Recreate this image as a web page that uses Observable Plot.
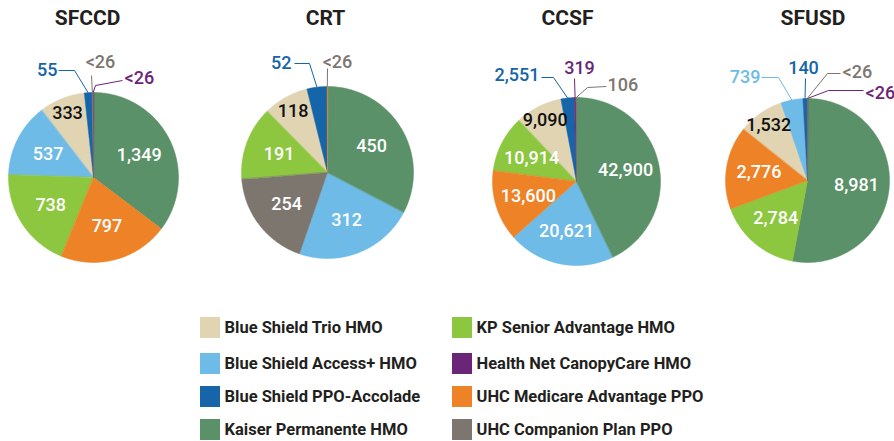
<!DOCTYPE html>
<html>
<head>
<meta charset="utf-8">
<script src="https://cdn.jsdelivr.net/npm/d3@7"></script>
<script src="https://cdn.jsdelivr.net/npm/@observablehq/plot@0.6"></script>
<style>
  html, body { margin: 0; padding: 0; background: #fff; overflow: hidden; }
  #page { position: relative; width: 894px; height: 441px; }
  #chart svg { overflow: hidden; }
  .sw { position: absolute; width: 20px; height: 21px; }
  .lt { position: absolute; font-family: Roboto, "Liberation Sans", sans-serif; font-weight: 700;
        font-size: 16.5px; color: #231f20; line-height: 21px; white-space: nowrap; }
</style>
</head>
<body>
<div id="page">
  <div id="chart"></div>
  <div id="legend"></div>
</div>
<script>
// ---------- data ----------
const plans = [
  "Blue Shield Trio HMO",
  "Blue Shield Access+ HMO",
  "Blue Shield PPO-Accolade",
  "Kaiser Permanente HMO",
  "KP Senior Advantage HMO",
  "Health Net CanopyCare HMO",
  "UHC Medicare Advantage PPO",
  "UHC Companion Plan PPO"
];
const planColors = ["#e0d4b3", "#6dbbe6", "#1565a8", "#5b9168", "#8dc63f", "#6b2576", "#ee8227", "#7d766f"];
const districts = ["SFCCD", "CRT", "CCSF", "SFUSD"];
// enrollment per plan (same order as plans); null = not offered; values < 26 are suppressed ("<26")
const sfccd = [333, 537, 55, 1349, 738, 5, 797, 6];
const crt   = [118, 312, 52, 450, 191, null, 1, 254];
const ccsf  = [9090, 20621, 2551, 42900, 10914, 319, 13600, 106];
const sfusd = [1532, 739, 140, 8981, 2784, 5, 2776, 6];
const districtValues = [sfccd, crt, ccsf, sfusd];
// in CRT the suppressed slice's label is shown grey
const crtSuppressedPlan = "UHC Medicare Advantage PPO";

// ---------- layout ----------
const W = 894, H = 300;
const pies = [
  {cx: 93,  cy: 177, r: 85, tdx: -6},
  {cx: 327, cy: 172, r: 86, tdx: -2},
  {cx: 576, cy: 181, r: 84, tdx: -9},
  {cx: 807, cy: 180, r: 82, tdx: 5.5}
];
const titleY = 18;
// callouts for small slices: label position/anchor and leader elbow points, relative to pie centre
const callouts = {
  "SFCCD": {
    "Blue Shield PPO-Accolade": {lab: [-36, -107], anchor: "end", pts: [[-35, -107], [-19, -107]]},
    "UHC Companion Plan PPO": {lab: [7, -115], anchor: "middle", pts: [[-2, -102]]},
    "Health Net CanopyCare HMO": {lab: [31, -99], anchor: "start", pts: [[29, -97], [2, -92]]}
  },
  "CRT": {
    "Blue Shield PPO-Accolade": {lab: [-36, -109], anchor: "end", pts: [[-33, -109], [-18, -109]]},
    "UHC Medicare Advantage PPO": {lab: [10, -110], anchor: "middle", pts: [[0, -104]]}
  },
  "CCSF": {
    "Blue Shield PPO-Accolade": {lab: [-37, -106], anchor: "end", pts: [[-35, -104], [-23, -104]]},
    "Health Net CanopyCare HMO": {lab: [3, -113], anchor: "middle", pts: [[-2, -103]]},
    "UHC Companion Plan PPO": {lab: [31, -96], anchor: "start", pts: [[30, -95], [11, -94]]}
  },
  "SFUSD": {
    "Blue Shield Access+ HMO": {lab: [-47, -103], anchor: "end", pts: [[-46, -103], [-29, -103]]},
    "Blue Shield PPO-Accolade": {lab: [-4, -112], anchor: "middle", pts: [[-2, -102]]},
    "UHC Companion Plan PPO": {lab: [35, -108], anchor: "start", pts: [[33, -107], [20, -107]]},
    "Health Net CanopyCare HMO": {lab: [58, -87], anchor: "start", pts: [[56, -90], [21, -90]]}
  }
};

const colorOf = p => planColors[plans.indexOf(p)];
const fmt = v => v < 26 ? "<26" : d3.format(",")(v);

const slicePts = [], inLabels = [], outLabels = [], leaders = [], titles = [];
districts.forEach((name, k) => {
  const L = pies[k];
  titles.push({x: L.cx + L.tdx, y: titleY, text: name});
  const items = plans.map((p, i) => ({plan: p, value: districtValues[k][i]})).filter(d => d.value != null);
  const total = d3.sum(items, d => d.value);
  const arcs = d3.pie().value(d => d.value)(items);
  const pt = (a, rr) => [L.cx + rr * Math.sin(a), L.cy - rr * Math.cos(a)];
  arcs.forEach(a => {
    const key = name + "|" + a.data.plan;
    const n = Math.max(2, Math.ceil((a.endAngle - a.startAngle) / (Math.PI / 180)));
    slicePts.push({key, plan: a.data.plan, x: L.cx, y: L.cy});
    for (let j = 0; j <= n; j++) {
      const [x, y] = pt(a.startAngle + (a.endAngle - a.startAngle) * j / n, L.r);
      slicePts.push({key, plan: a.data.plan, x, y});
    }
    const share = a.data.value / total;
    const mid = (a.startAngle + a.endAngle) / 2;
    const text = fmt(a.data.value);
    if (share >= 0.05) {
      const [x, y] = pt(mid, L.r * (share >= 0.1 ? 0.6 : 0.82));
      inLabels.push({x, y, text, dark: a.data.plan === "Blue Shield Trio HMO"});
    } else {
      const c = callouts[name][a.data.plan];
      let color = colorOf(a.data.plan);
      if (name === "CRT" && a.data.plan === crtSuppressedPlan) color = colorOf("UHC Companion Plan PPO");
      outLabels.push({x: L.cx + c.lab[0], y: L.cy + c.lab[1], text, color, anchor: c.anchor});
      const pts = c.pts.map(([dx, dy]) => ({key, color, x: L.cx + dx, y: L.cy + dy}));
      const [rx, ry] = pt(mid, L.r);
      pts.push({key, color, x: rx, y: ry});
      leaders.push(pts);
    }
  });
});

const numFont = {fontFamily: "Roboto, 'Liberation Sans', sans-serif", fontSize: 18, fontWeight: 500};
const marks = [
  Plot.line(slicePts, {x: "x", y: "y", z: "key", fill: "plan", stroke: "plan", strokeWidth: 0.5, curve: "linear-closed"}),
  ...leaders.map(pts => Plot.line(pts, {x: "x", y: "y", stroke: pts[0].color, strokeWidth: 1, strokeLinecap: "butt", strokeLinejoin: "miter"})),
  Plot.text(inLabels.filter(d => !d.dark), {x: "x", y: "y", text: "text", fill: "white", ...numFont}),
  Plot.text(inLabels.filter(d => d.dark), {x: "x", y: "y", text: "text", fill: "#111", ...numFont}),
  ...d3.groups(outLabels, d => d.color + "|" + d.anchor).map(([g, arr]) =>
    Plot.text(arr, {x: "x", y: "y", text: "text", fill: arr[0].color, textAnchor: arr[0].anchor, ...numFont})),
  Plot.text(titles, {x: "x", y: "y", text: "text", fill: "#231f20", fontFamily: "Roboto, 'Liberation Sans', sans-serif", fontSize: 21, fontWeight: 700})
];

const chart = Plot.plot({
  width: W, height: H,
  marginTop: 0, marginRight: 0, marginBottom: 0, marginLeft: 0,
  x: {domain: [0, W], range: [0, W], axis: null},
  y: {domain: [0, H], range: [0, H], axis: null},
  color: {domain: plans, range: planColors},
  marks
});
document.getElementById("chart").appendChild(chart);

// ---------- legend ----------
const legendCols = [199.5, 451.5];
const legendRows = [317, 353, 386, 419];
const legend = document.getElementById("legend");
plans.forEach((p, i) => {
  const col = Math.floor(i / 4), row = i % 4;
  const sw = document.createElement("div");
  sw.className = "sw";
  sw.style.left = legendCols[col] + "px";
  sw.style.top = legendRows[row] + "px";
  sw.style.background = planColors[i];
  legend.appendChild(sw);
  const t = document.createElement("div");
  t.className = "lt";
  t.style.left = (legendCols[col] + 25) + "px";
  t.style.top = legendRows[row] + "px";
  t.textContent = p;
  legend.appendChild(t);
});
</script>
</body>
</html>
